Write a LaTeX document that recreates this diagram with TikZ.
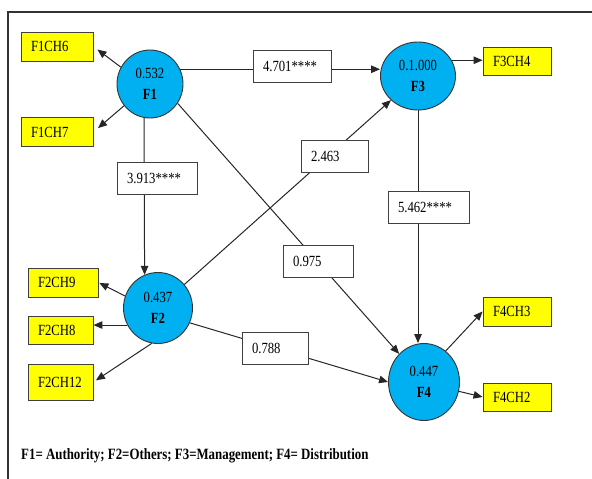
\documentclass[tikz,border=0pt]{standalone}
\usepackage{fontspec}
\setmainfont{Liberation Serif}[FakeStretch=0.82]
\usetikzlibrary{arrows.meta,shapes.geometric,calc}
\definecolor{factorblue}{RGB}{0,176,240}
\definecolor{itemyellow}{RGB}{255,255,0}

\begin{document}
\begin{tikzpicture}[x=1pt, y=-1pt,
    factor/.style={ellipse, draw=black!80, line width=0.9pt, fill=factorblue, inner sep=0pt, align=center, font=\fontsize{15.5}{21}\selectfont},
    item/.style={draw=black!75, line width=0.9pt, fill=itemyellow, text width=#1, align=left, inner xsep=10pt, inner ysep=0pt, minimum height=29pt, font=\fontsize{15.5}{17}\selectfont},
    coef/.style={draw=black!75, line width=0.7pt, fill=white, text width=#1, align=left, inner xsep=10pt, inner ysep=0pt, minimum height=31.5pt, font=\fontsize{15.5}{17}\selectfont},
    arr/.style={-{Triangle[length=9pt, width=7.5pt]}, line width=1pt, black!85}
]
\useasboundingbox (0,0) rectangle (592,479);
\draw[line width=1.3pt, black!80] (8,479) -- (8,12) -- (592,12);

% latent factors
\node[factor, minimum width=66pt, minimum height=68pt] (f1) at (150,84) {0.532\\\textbf{F1}};
\node[factor, minimum width=69pt, minimum height=71pt] (f2) at (158,308) {0.437\\\textbf{F2}};
\node[factor, minimum width=75pt, minimum height=68pt] (f3) at (418,76) {0.1.000\\\textbf{F3}};
\node[factor, minimum width=71pt, minimum height=77pt] (f4) at (424,382) {0.447\\\textbf{F4}};

% items
\node[item=52pt] (f1ch6) at (57,46.5) {F1CH6};
\node[item=52pt] (f1ch7) at (57,132) {F1CH7};
\node[item=50pt] (f2ch9) at (63,282.5) {F2CH9};
\node[item=45pt, minimum height=28pt] (f2ch8) at (60.5,330) {F2CH8};
\node[item=45pt, minimum height=36pt] (f2ch12) at (60.5,382) {F2CH12};
\node[item=48pt, minimum height=28pt] (f3ch4) at (517,61) {F3CH4};
\node[item=48pt] (f4ch3) at (517,311.5) {F4CH3};
\node[item=48pt, minimum height=28pt] (f4ch2) at (517,397) {F4CH2};

\draw[arr, shorten >=5pt] (f1.150) -- (f1ch6.east);
\draw[arr, shorten >=6pt] (f1.-140) -- (f1ch7.east);
\draw[arr, shorten >=1pt] (f2.160) -- (f2ch9.east);
\draw[arr] (f2.-151) -- (f2.-151 -| f2ch8.east);
\draw[arr, shorten >=3pt] (f2.-100) -- (f2ch12.east);
\draw[arr] (f3.25) -- (f3.25 -| f3ch4.west);
\draw[arr] (f4.55) -- (f4ch3.west);
\draw[arr] (f4.-15) -- (f4ch2.west);

% structural paths
\draw[arr] (f1.26) -- (f1.26 -| f3.west);
\draw[arr] (f1.260) -- (f2.112);
\draw[arr] (f2) -- (f3);
\draw[arr] (f1.-35) -- (f4);
\draw[arr] (f2.-25) -- (f4.west);
\draw[arr] (f3.south) -- (f3.south |- f4.north);

\node[coef=58pt, minimum height=32pt] (c13) at (292,66) {4.701****};
\node[coef=60pt, minimum height=32pt] (c12) at (157,178) {3.913****};
\node[coef=47pt, minimum height=32pt] (c23) at (334.5,156) {2.463};
\node[coef=61pt] (c34) at (428.5,207.5) {5.462****};
\node[coef=50pt] (c14) at (318,261.5) {0.975};
\node[coef=46pt] (c24) at (275,348.5) {0.788};

\node[anchor=base west, inner sep=0pt, font=\fontsize{15.7}{17}\selectfont\bfseries] (legend) at (21,459)
  {F1= Authority; F2=Others; F3=Management; F4= Distribution};
\end{tikzpicture}
\end{document}
